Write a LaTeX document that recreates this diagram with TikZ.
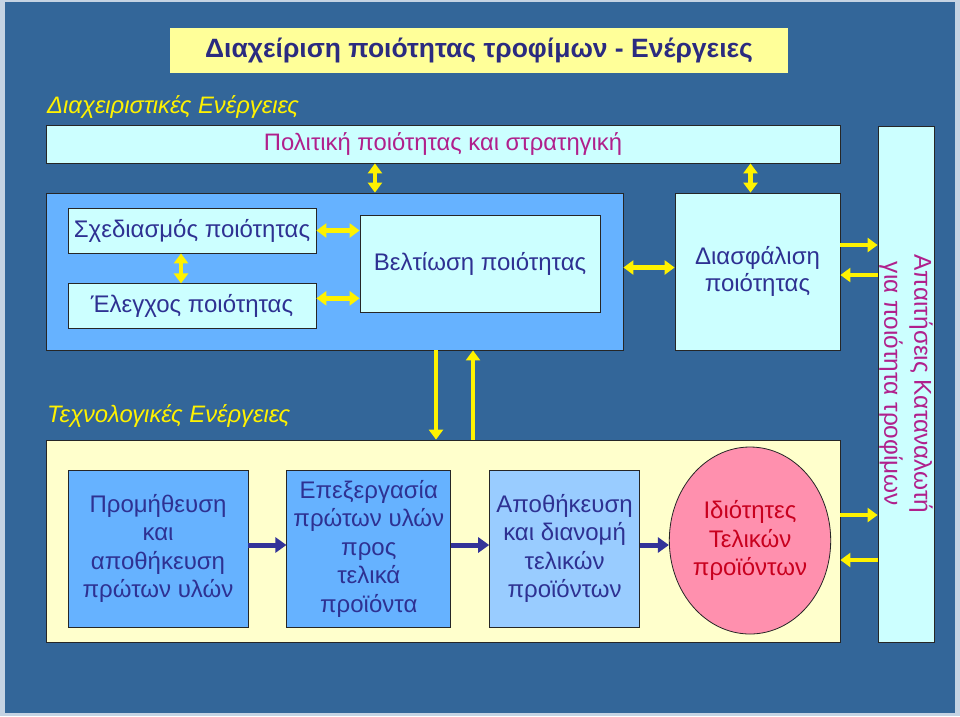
\documentclass[tikz,border=0pt]{standalone}
\usepackage{fontspec}
\setmainfont{Liberation Sans}
\usetikzlibrary{positioning, calc, arrows.meta, shapes.geometric}

\definecolor{slide}{HTML}{336699}
\definecolor{slideedge}{HTML}{C5D3E3}
\definecolor{midblue}{HTML}{66B2FF}
\definecolor{softblue}{HTML}{99CCFF}
\definecolor{palecyan}{HTML}{CCFFFF}
\definecolor{paleyellow}{HTML}{FFFFCC}
\definecolor{titleyellow}{HTML}{FFFF99}
\definecolor{rosefill}{HTML}{FF90AE}
\definecolor{navytext}{HTML}{2E3192}
\definecolor{titlenavy}{HTML}{2B2B80}
\definecolor{magtext}{HTML}{B0208C}
\definecolor{redtext}{HTML}{C8001E}
\definecolor{navyarrow}{HTML}{333399}

\newcommand\bodyfont{\fontsize{24}{28.5}\selectfont}

\tikzstyle{panel} = [rectangle, draw=black!85, line width=0.8pt, inner sep=0pt, align=center, font=\bodyfont]
\tikzstyle{pale} = [panel, fill=palecyan, text=navytext]
\tikzstyle{procbox} = [panel, fill=midblue, text=navytext, minimum height=157pt]
\tikzstyle{tag} = [anchor=west, inner sep=0pt, text=yellow, font=\itshape\fontsize{23.8}{28}\selectfont]
\tikzstyle{yline} = [draw=yellow, line width=4.5pt, -{Triangle[width=14pt,length=10pt]}]
\tikzstyle{ydbl} = [yline, {Triangle[width=14pt,length=10pt]}-{Triangle[width=14pt,length=10pt]}]
\tikzstyle{nline} = [draw=navyarrow, line width=5pt, -{Triangle[width=15pt,length=11pt]}]

\begin{document}
\begin{tikzpicture}[x=1pt, y=-1pt, node distance=38pt]
        \useasboundingbox (0,0) rectangle (960,716);
        \fill[slideedge] (0,0) rectangle (960,716);
        \fill[slide] (5,2) rectangle (955,713);

        % title and management level
        \node [panel, draw=none, fill=titleyellow, text=titlenavy, minimum width=618pt, minimum height=45pt,
               font=\bfseries\fontsize{26.5}{30}\selectfont] (title) at (479,50.5) {Διαχείριση ποιότητας τροφίμων - Ενέργειες};
        \node [tag] (mgmt) at (47,107) {Διαχειριστικές Ενέργειες};
        \node [pale, text=magtext, minimum width=794pt, minimum height=38pt, font=\fontsize{23.8}{28}\selectfont] (policy) at (443,144) {Πολιτική ποιότητας και στρατηγική};
        \node [panel, fill=midblue, minimum width=577pt, minimum height=157pt] (bigblue) at (334.5,271.5) {};
        \node [pale, minimum width=248pt, minimum height=45pt] (sched) at (192,230.5) {Σχεδιασμός ποιότητας};
        \node [pale, minimum width=248pt, minimum height=45pt, below=30pt of sched] (ctrl) {Έλεγχος ποιότητας};
        \node [pale, minimum width=240pt, minimum height=97pt] (improve) at (480,263.5) {Βελτίωση ποιότητας};
        \node [pale, minimum width=165pt, minimum height=157pt, font=\fontsize{24}{26.5}\selectfont] (assure) at (757.5,271.5) {Διασφάλιση\\ποιότητας};
        \node [pale, minimum width=56pt, minimum height=516pt] (req) at (906,384) {};
        \node [rotate=-90, align=center, text=magtext, inner sep=0pt, font=\fontsize{24.4}{30}\selectfont] (reqtext) at (req.center) {Απαιτήσεις Καταναλωτή\\για ποιότητα τροφίμων};

        % technological level
        \node [tag] (tech) at (47,416) {Τεχνολογικές Ενέργειες};
        \node [panel, fill=paleyellow, minimum width=794pt, minimum height=202pt] (techbox) at (443,541) {};
        \node [procbox, minimum width=180pt] (supply) at (158,548.5) {Προμήθευση\\και\\αποθήκευση\\πρώτων υλών};
        \node [procbox, minimum width=164pt, right=of supply] (process) {Επεξεργασία\\πρώτων υλών\\προς\\τελικά\\προϊόντα};
        \node [procbox, fill=softblue, minimum width=150pt, right=of process] (store) {Αποθήκευση\\και διανομή\\τελικών\\προϊόντων};
        \node [ellipse, draw=black!85, line width=0.8pt, fill=rosefill, text=redtext, inner sep=0pt, align=center,
               minimum width=149pt, minimum height=187pt, font=\bodyfont] (props) at (750,540.5) {Ιδιότητες\\Τελικών\\προϊόντων};

        % yellow links
        \coordinate (t1) at ($(bigblue.north west)!0.57!(bigblue.north east)$);
        \path [ydbl] (t1) -- (t1 |- policy.south);
        \path [ydbl] ([xshift=-7pt]assure.north) -- ([xshift=-7pt]assure.north |- policy.south);
        \path [ydbl] (sched.east) -- (sched.east -| improve.west);
        \path [ydbl] ([yshift=8pt]ctrl.east) -- ([yshift=8pt]ctrl.east -| improve.west);
        \path [ydbl] ([xshift=-11pt]sched.south) -- ([xshift=-11pt]ctrl.north);
        \path [ydbl] ([yshift=4pt]bigblue.east) -- ([yshift=4pt]assure.west);
        \path [yline] ([yshift=26.5pt]assure.east) -- ([yshift=26.5pt]assure.east -| req.west);
        \path [yline] ([yshift=-3.5pt]assure.east -| req.west) -- ([yshift=-3.5pt]assure.east);
        \path [yline] ([yshift=26pt]techbox.east) -- ([yshift=26pt]techbox.east -| req.west);
        \path [yline] ([yshift=-19pt]techbox.east -| req.west) -- ([yshift=-19pt]techbox.east);
        \path [yline] ([xshift=101.5pt]bigblue.south) -- ([xshift=101.5pt]bigblue.south |- techbox.north);
        \path [yline] ([xshift=138.5pt]bigblue.south |- techbox.north) -- ([xshift=138.5pt]bigblue.south);

        % production flow
        \path [nline] ([yshift=3.5pt]supply.east) -- ([yshift=3.5pt]process.west);
        \path [nline] ([yshift=3.5pt]process.east) -- ([yshift=3.5pt]store.west);
        \path [nline] ([yshift=3.5pt]store.east) -- ([yshift=3.5pt]store.east -| props.west);
    \end{tikzpicture}
\end{document}
